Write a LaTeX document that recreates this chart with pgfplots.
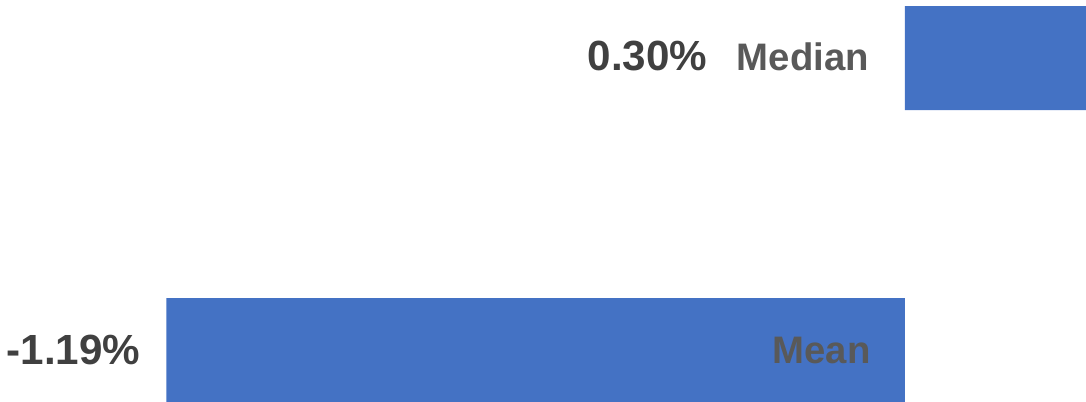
\documentclass[border=0pt]{standalone}
\usepackage{pgfplots}
\pgfplotsset{compat=1.18}
\usepackage{fontspec}
\setmainfont{Liberation Sans}
\definecolor{barblue}{HTML}{4472C4}
\definecolor{lblgray}{HTML}{595959}
\definecolor{numgray}{HTML}{404040}
\begin{document}
\begin{tikzpicture}
\begin{axis}[
  scale only axis,
  width=10.86cm, height=4.02cm,
  xbar, bar width=0.356,
  xmin=-1.458, xmax=0.2920,
  ymin=-0.178, ymax=1.199,
  hide axis,
  clip=true,
]
\path (rel axis cs:0,0) rectangle (rel axis cs:1,1);
\addplot[fill=barblue, draw=none] coordinates {(-1.19,0) (0.30,1)};
\end{axis}
\begin{axis}[
  scale only axis,
  width=10.86cm, height=4.02cm,
  xmin=-1.458, xmax=0.2920,
  ymin=-0.178, ymax=1.199,
  hide axis, clip=false,
]
\node[anchor=east, inner sep=0pt, xshift=-10pt, text=lblgray, font=\fontsize{10.9}{13}\selectfont\bfseries] at (axis cs:0,1.006) {Median};
\node[anchor=east, inner sep=0pt, xshift=-56pt, text=numgray, font=\fontsize{12}{14}\selectfont\bfseries] at (axis cs:0,1.006) {0.30\%};
\node[anchor=east, inner sep=0pt, xshift=-9.5pt, text=lblgray, font=\fontsize{10.9}{13}\selectfont\bfseries] at (axis cs:0,0) {Mean};
\node[anchor=east, inner sep=0pt, xshift=-7.2pt, text=numgray, font=\fontsize{12}{14}\selectfont\bfseries] at (axis cs:-1.19,0) {-1.19\%};
\end{axis}
\end{tikzpicture}
\end{document}
